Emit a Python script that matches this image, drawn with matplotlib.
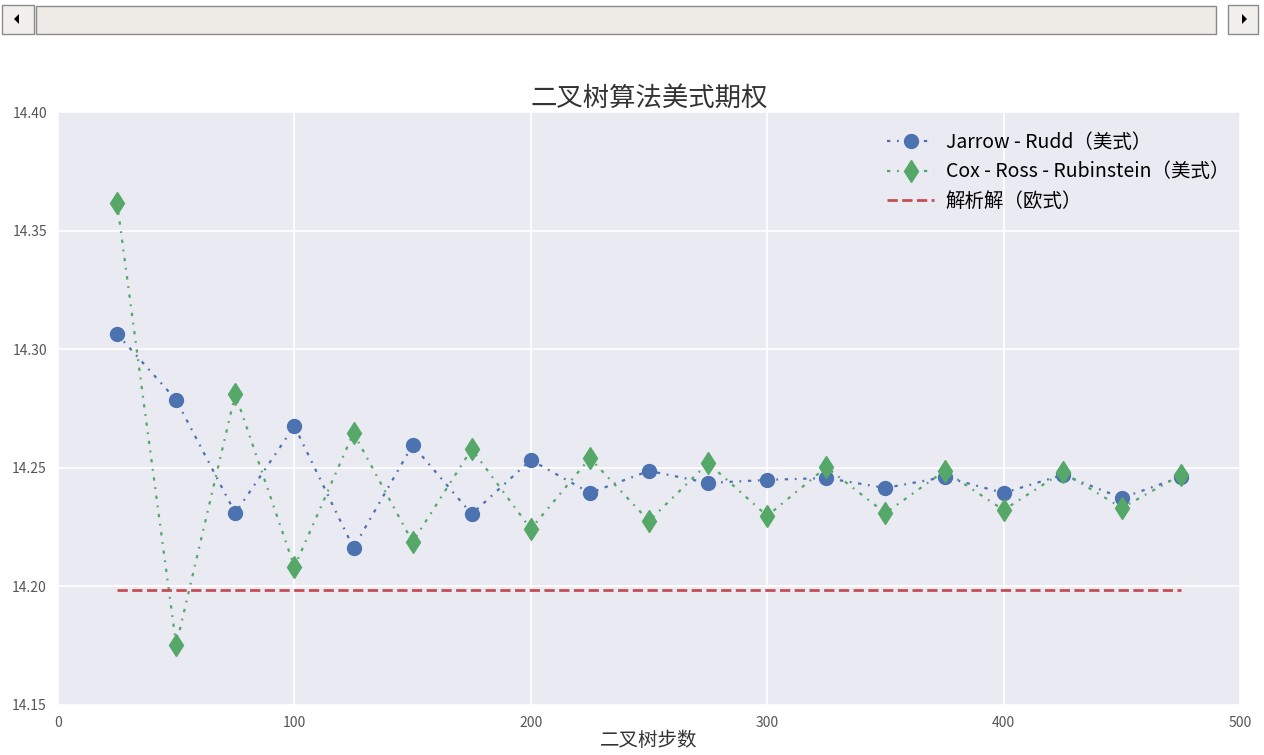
import matplotlib
matplotlib.use("Agg")
import matplotlib.pyplot as plt
from matplotlib.patches import Rectangle, Polygon

plt.rcParams['font.family'] = ['Noto Sans CJK SC', 'DejaVu Sans']
plt.rcParams['axes.unicode_minus'] = False

# 二叉树步数
steps = [25, 50, 75, 100, 125, 150, 175, 200, 225, 250,
         275, 300, 325, 350, 375, 400, 425, 450, 475]

# Jarrow - Rudd (美式)
jr_values = [14.3064, 14.2786, 14.2309, 14.2676, 14.2162, 14.2596, 14.2305,
             14.2533, 14.2394, 14.2487, 14.2436, 14.2449, 14.2457, 14.2415,
             14.2461, 14.2394, 14.2470, 14.2373, 14.2461]

# Cox - Ross - Rubinstein (美式)
crr_values = [14.3616, 14.1753, 14.2811, 14.2082, 14.2647, 14.2187, 14.2579,
              14.2242, 14.2541, 14.2276, 14.2520, 14.2297, 14.2503, 14.2309,
              14.2487, 14.2322, 14.2482, 14.2331, 14.2470]

# 解析解 (欧式)
bs_value = 14.1985
bs_values = [bs_value] * len(steps)

fig = plt.figure(figsize=(12.64, 7.55), dpi=100)
W, H = 1264, 755

# 顶部滚动条 (截图里的)
def px(x, y):
    return x / W, 1 - y / H

def box(x0, y0, x1, y1, fc, ec):
    fig.patches.append(Rectangle(px(x0, y1), (x1 - x0) / W, (y1 - y0) / H,
                                 transform=fig.transFigure, fc=fc, ec=ec, lw=1))

box(2, 5, 34, 34, '#f2f0ec', '#8a8a8a')
box(36, 6, 1216, 34, '#eeebe6', '#8a8a8a')
box(1228, 5, 1258, 34, '#f2f0ec', '#8a8a8a')
fig.patches.append(Polygon([px(14, 19), px(19, 14), px(19, 24)], closed=True,
                           transform=fig.transFigure, fc='black', ec='none'))
fig.patches.append(Polygon([px(1247, 19), px(1242, 14), px(1242, 24)], closed=True,
                           transform=fig.transFigure, fc='black', ec='none'))

ax = fig.add_axes([58 / W, 1 - 705 / H, (1240 - 58) / W, (705 - 112) / H])
ax.set_facecolor('#EAEAF2')
for s in ax.spines.values():
    s.set_visible(False)
ax.grid(True, color='white', linewidth=1.2)
ax.set_axisbelow(True)
ax.tick_params(length=0, labelsize=10, labelcolor='#555555', pad=8)

dashdot = (1.5, 3, 0.8, 3)
ax.plot(steps, jr_values, '-.', color='#4C72B0', marker='o', markersize=10,
        linewidth=1.6, dashes=dashdot, label='Jarrow - Rudd（美式）')
ax.plot(steps, crr_values, '-.', color='#55A868', marker='d', markersize=11.5,
        linewidth=1.6, dashes=dashdot, label='Cox - Ross - Rubinstein（美式）')
ax.plot(steps, bs_values, '--', color='#C44E52', linewidth=2,
        label='解析解（欧式）')

ax.set_xlim(0, 500)
ax.set_ylim(14.15, 14.40)
ax.set_xticks([0, 100, 200, 300, 400, 500])
ax.set_yticks([14.15, 14.20, 14.25, 14.30, 14.35, 14.40])
ax.set_yticklabels(['%.2f' % v for v in ax.get_yticks()])

ax.set_title('二叉树算法美式期权', fontsize=19, color='#333333', pad=4)
ax.set_xlabel('二叉树步数', fontsize=14, color='#333333', labelpad=0)

ax.legend(loc='upper right', bbox_to_anchor=(1.0, 0.985), frameon=False,
          fontsize=14, numpoints=1, handlelength=2.4, handletextpad=0.6,
          borderaxespad=0.15, labelspacing=0.45)

plt.savefig('out.png', dpi=100)
